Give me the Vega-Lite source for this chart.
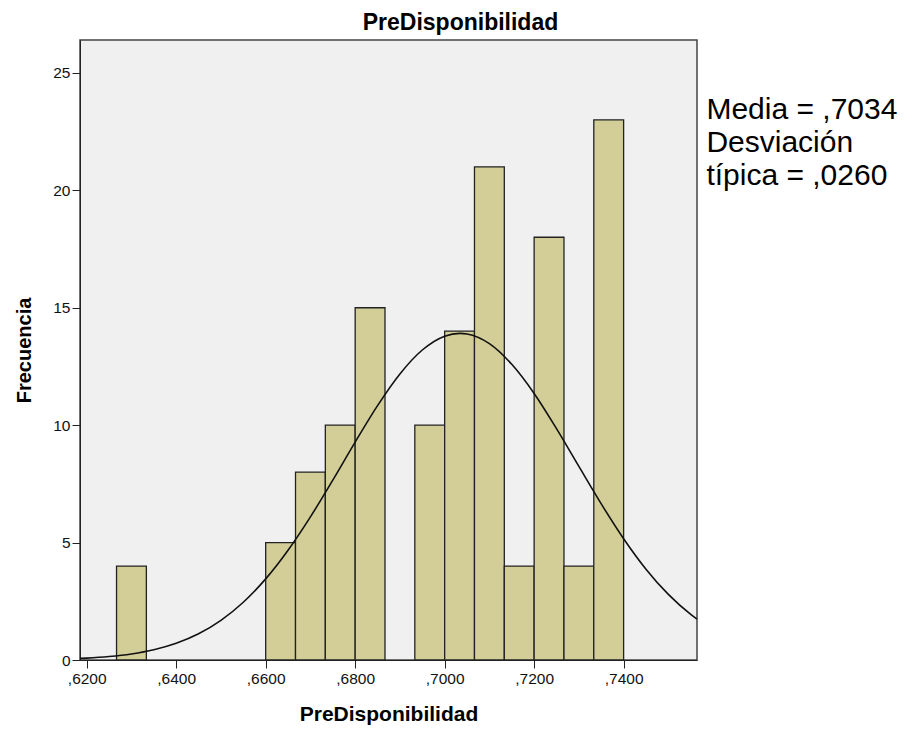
{
  "$schema": "https://vega.github.io/schema/vega-lite/v6.json",
  "autosize": {"type": "none"},
  "padding": {"left": 80, "top": 40, "right": 223, "bottom": 71},
  "width": 617,
  "height": 620,
  "background": "white",
  "title": {"text": "PreDisponibilidad", "font": "Liberation Sans", "fontSize": 23, "fontWeight": "bold", "color": "#000", "anchor": "middle", "dx": 72, "offset": 5},
  "config": {
    "view": {"stroke": "#444", "strokeWidth": 1.5, "fill": "#F0F0F0"},
    "axis": {"grid": false, "domainColor": "#222", "tickColor": "#222", "labelColor": "#111", "titleColor": "#000", "labelFont": "Liberation Sans", "titleFont": "Liberation Sans", "labelFontSize": 15.5, "titleFontWeight": "bold", "tickSize": 8, "labelPadding": 2}
  },
  "datasets": {
    "bins": [
      {"bin_start": 0.626667, "bin_end": 0.633333, "count": 4},
      {"bin_start": 0.66, "bin_end": 0.666667, "count": 5},
      {"bin_start": 0.666667, "bin_end": 0.673333, "count": 8},
      {"bin_start": 0.673333, "bin_end": 0.68, "count": 10},
      {"bin_start": 0.68, "bin_end": 0.686667, "count": 15},
      {"bin_start": 0.693333, "bin_end": 0.7, "count": 10},
      {"bin_start": 0.7, "bin_end": 0.706667, "count": 14},
      {"bin_start": 0.706667, "bin_end": 0.713333, "count": 21},
      {"bin_start": 0.713333, "bin_end": 0.72, "count": 4},
      {"bin_start": 0.72, "bin_end": 0.726667, "count": 18},
      {"bin_start": 0.726667, "bin_end": 0.733333, "count": 4},
      {"bin_start": 0.733333, "bin_end": 0.74, "count": 23}
    ],
    "curve": [
      {"x": 0.6185, "y": 0.067},
      {"x": 0.62, "y": 0.081},
      {"x": 0.625, "y": 0.148},
      {"x": 0.63, "y": 0.259},
      {"x": 0.635, "y": 0.437},
      {"x": 0.64, "y": 0.712},
      {"x": 0.645, "y": 1.116},
      {"x": 0.65, "y": 1.689},
      {"x": 0.655, "y": 2.459},
      {"x": 0.66, "y": 3.454},
      {"x": 0.665, "y": 4.674},
      {"x": 0.67, "y": 6.095},
      {"x": 0.675, "y": 7.66},
      {"x": 0.68, "y": 9.278},
      {"x": 0.685, "y": 10.83},
      {"x": 0.69, "y": 12.18},
      {"x": 0.695, "y": 13.2},
      {"x": 0.7, "y": 13.79},
      {"x": 0.7034, "y": 13.91},
      {"x": 0.705, "y": 13.88},
      {"x": 0.71, "y": 13.47},
      {"x": 0.715, "y": 12.59},
      {"x": 0.72, "y": 11.35},
      {"x": 0.725, "y": 9.85},
      {"x": 0.73, "y": 8.242},
      {"x": 0.735, "y": 6.647},
      {"x": 0.74, "y": 5.165},
      {"x": 0.745, "y": 3.867},
      {"x": 0.75, "y": 2.792},
      {"x": 0.755, "y": 1.941},
      {"x": 0.7564, "y": 1.742}
    ],
    "stats": [
      {"label": "Media = ,7034\nDesviación\ntípica = ,0260"}
    ]
  },
  "layer": [
    {
      "data": {"name": "bins"},
      "mark": {"type": "rect", "fill": "#D3CE97", "stroke": "#222", "strokeWidth": 1.3},
      "encoding": {
        "x": {"field": "bin_start", "type": "quantitative", "scale": {"domain": [0.6185, 0.7564], "nice": false, "zero": false},
              "axis": {"values": [0.62, 0.64, 0.66, 0.68, 0.7, 0.72, 0.74], "labelExpr": "replace(format(datum.value, '.4f'), '0.', ',')", "title": "PreDisponibilidad", "titleFontSize": 21, "titlePadding": 17, "labelPadding": 3}},
        "x2": {"field": "bin_end"},
        "y": {"field": "count", "type": "quantitative", "scale": {"domain": [0, 26.4], "nice": false},
              "axis": {"values": [0, 5, 10, 15, 20, 25], "title": "Frecuencia", "titleFontSize": 20, "titlePadding": 18}},
        "y2": {"datum": 0}
      }
    },
    {
      "data": {"name": "curve"},
      "mark": {"type": "line", "color": "#111", "strokeWidth": 1.6, "interpolate": "monotone"},
      "encoding": {
        "x": {"field": "x", "type": "quantitative"},
        "y": {"field": "y", "type": "quantitative"}
      }
    },
    {
      "data": {"name": "stats"},
      "mark": {"type": "text", "align": "left", "baseline": "alphabetic", "lineBreak": "\n", "lineHeight": 33, "font": "Liberation Sans", "fontSize": 30, "color": "#000"},
      "encoding": {
        "x": {"datum": 0.7585, "type": "quantitative"},
        "y": {"datum": 23.04, "type": "quantitative"},
        "text": {"field": "label"}
      }
    }
  ]
}
